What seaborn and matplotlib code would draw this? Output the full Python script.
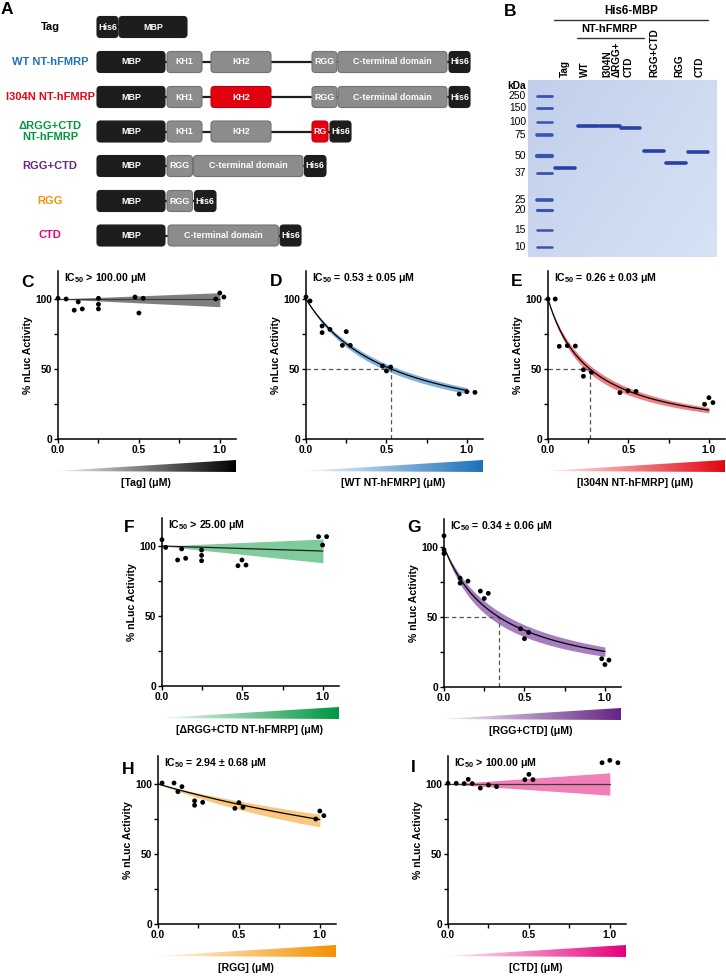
import numpy as np
import pandas as pd
import matplotlib
matplotlib.use("Agg")
import matplotlib.pyplot as plt
import matplotlib.colors as mcolors
from matplotlib.patches import FancyBboxPatch, Polygon
from matplotlib.ticker import FixedLocator, FormatStrFormatter
import seaborn as sns

sns.set_theme(style="ticks")
plt.rcParams['font.family'] = ['Liberation Sans', 'DejaVu Sans']
plt.rcParams['font.weight'] = 'bold'
plt.rcParams['axes.labelweight'] = 'bold'
plt.rcParams['mathtext.fontset'] = 'custom'
plt.rcParams['mathtext.rm'] = 'Liberation Sans:bold'
plt.rcParams['mathtext.it'] = 'Liberation Sans:bold'
plt.rcParams['mathtext.bf'] = 'Liberation Sans:bold'
plt.rcParams['mathtext.default'] = 'rm'
for k in ['axes.edgecolor', 'xtick.color', 'ytick.color', 'text.color', 'axes.labelcolor']:
    plt.rcParams[k] = 'black'

W, H = 726, 977

# ---------------- data ----------------
# Panel C: Tag
tag_x = [0, 0.05, 0.10, 0.125, 0.15, 0.25, 0.25, 0.25, 0.476, 0.50, 0.526, 0.975, 1.0, 1.025]
tag_y = [100.5, 100, 92, 97.9, 92.9, 100.5, 96.2, 92.9, 101.4, 90, 100.5, 100, 104.3, 101.4]
# Panel D: WT NT-hFMRP
wt_x = [0, 0.025, 0.10, 0.10, 0.149, 0.226, 0.25, 0.275, 0.476, 0.50, 0.526, 0.952, 1.0, 1.05]
wt_y = [101.4, 98.6, 80.7, 76, 78.3, 66.9, 76.7, 66.9, 52.1, 48.6, 51.4, 32.1, 33.8, 33.3]
# Panel E: I304N NT-hFMRP
i304n_x = [0, 0.045, 0.07, 0.12, 0.17, 0.22, 0.22, 0.27, 0.447, 0.497, 0.547, 0.973, 1.0, 1.025]
i304n_y = [100, 100, 66.2, 66.7, 66.4, 49.5, 44.8, 47.6, 33.1, 34.5, 34, 24.8, 29.5, 26]
# Panel F: dRGG+CTD NT-hFMRP
drgg_x = [0, 0.023, 0.097, 0.122, 0.147, 0.246, 0.246, 0.246, 0.472, 0.497, 0.522, 0.973, 0.998, 1.023]
drgg_y = [104.5, 99, 90, 97.9, 91.2, 97.1, 93.3, 89.5, 85.9, 90, 86.4, 106.7, 100.7, 106.7]
# Panel G: RGG+CTD
rggctd_x = [0, 0, 0, 0.10, 0.10, 0.149, 0.226, 0.25, 0.275, 0.476, 0.50, 0.526, 0.98, 1.0, 1.025]
rggctd_y = [108, 98, 95.3, 77.7, 74.2, 75.6, 68.5, 63.2, 66.9, 41.6, 34.5, 39, 20.2, 16, 19.2]
# Panel H: RGG
rgg_x = [0.025, 0.099, 0.123, 0.148, 0.226, 0.226, 0.276, 0.475, 0.50, 0.525, 0.975, 1.0, 1.025]
rgg_y = [100.7, 100.7, 94.5, 98.1, 88, 84.8, 86.9, 82.6, 86.7, 83.3, 75, 80.7, 77.4]
# Panel I: CTD
ctd_x = [0, 0.051, 0.10, 0.125, 0.15, 0.20, 0.25, 0.30, 0.475, 0.50, 0.525, 0.952, 1.0, 1.05]
ctd_y = [100.5, 100.5, 100.3, 103.3, 100.3, 97.1, 99.3, 98.1, 103.1, 106.9, 103.1, 115.2, 116.9, 115.2]

# fitted IC50 values (value, error) from the panel annotations
wt_ic50 = (0.53, 0.05)
i304n_ic50 = (0.26, 0.03)
rggctd_ic50 = (0.34, 0.06)
rgg_ic50 = (2.94, 0.68)
# non-inhibiting fits: line, lower and upper band at [0, 1] uM
fit_ends = [0, 1.0]
tag_fit = ([100, 100], [100, 94.5], [100, 104.5])
drgg_fit = ([100, 96.4], [100, 88], [100, 105])
ctd_fit = ([100, 100], [100, 92], [100, 108])

# gel (panel B)
ladder_kda = ["250", "150", "100", "75", "50", "37", "25", "20", "15", "10"]
ladder_pos = [0.092, 0.158, 0.236, 0.311, 0.429, 0.524, 0.678, 0.734, 0.847, 0.942]
ladder_lw = [2.0, 2.0, 1.8, 2.6, 3.0, 2.0, 2.6, 2.2, 1.8, 1.8]
lane_names = ["Tag", "WT", "I304N", "ΔRGG+", "CTD", "RGG+CTD", "RGG", "CTD"]
lane_center = [0.197, 0.319, 0.433, 0.543, 0.665, 0.784, 0.898]
lane_band_pos = [0.499, 0.260, 0.258, 0.271, 0.401, 0.467, 0.405]

# panel A constructs
construct_names = ["Tag", "WT NT-hFMRP", "I304N NT-hFMRP", "ΔRGG+CTD\nNT-hFMRP", "RGG+CTD", "RGG", "CTD"]
construct_colors = ["#000000", "#1d71b8", "#e30613", "#009640", "#662483", "#f39200", "#e5007d"]
construct_domains = [
    [("His6", 97, 118, "tag"), ("MBP", 119, 187, "tag")],
    [("MBP", 97, 165, "tag"), ("KH1", 167, 202, "dom"), ("KH2", 211, 271, "dom"),
     ("RGG", 312, 337, "dom"), ("C-terminal domain", 338, 447, "dom"), ("His6", 449, 470, "tag")],
    [("MBP", 97, 165, "tag"), ("KH1", 167, 202, "dom"), ("KH2", 211, 271, "mut"),
     ("RGG", 312, 337, "dom"), ("C-terminal domain", 338, 447, "dom"), ("His6", 449, 470, "tag")],
    [("MBP", 97, 165, "tag"), ("KH1", 167, 202, "dom"), ("KH2", 211, 271, "dom"),
     ("RG", 312, 328, "mut"), ("His6", 330, 351, "tag")],
    [("MBP", 97, 165, "tag"), ("RGG", 167, 192.5, "dom"), ("C-terminal domain", 193.5, 303, "dom"),
     ("His6", 304.5, 326, "tag")],
    [("MBP", 97, 165, "tag"), ("RGG", 167, 192.5, "dom"), ("His6", 194.5, 216, "tag")],
    [("MBP", 97, 165, "tag"), ("C-terminal domain", 168, 278.5, "dom"), ("His6", 280, 301, "tag")],
]
row_y = [27, 62, 97, 131.5, 166, 201, 235.5]

fig = plt.figure(figsize=(W / 100, H / 100), dpi=100)


def px_axes(l, t, r, b, **kw):
    return fig.add_axes([l / W, 1 - b / H, (r - l) / W, (b - t) / H], **kw)


ov = fig.add_axes([0, 0, 1, 1])
ov.set_xlim(0, W)
ov.set_ylim(H, 0)
ov.axis('off')
ov.patch.set_alpha(0)

# ---------------- Panel A ----------------
kind_face = {"tag": "#1d1d1b", "dom": "#8c8c8c", "mut": "#e3000f"}
kind_edge = {"tag": "#1d1d1b", "dom": "#727272", "mut": "#c00010"}
for name, col, doms, yc in zip(construct_names, construct_colors, construct_domains, row_y):
    ov.text(50, yc, name, ha='center', va='center', fontsize=8, color=col,
            fontweight='bold', linespacing=1.15)
    ov.plot([doms[0][2], doms[-1][1]], [yc, yc], color='#1d1d1b', lw=1.6, zorder=1)
    for lab, s, e, kind in doms:
        p = FancyBboxPatch((s, yc - 10.5), e - s, 21,
                           boxstyle="round,pad=0,rounding_size=3.5",
                           fc=kind_face[kind], ec=kind_edge[kind], lw=0.8, zorder=2)
        ov.add_patch(p)
        ov.text((s + e) / 2, yc, lab, ha='center', va='center', fontsize=6.4,
                color='white', fontweight='bold', zorder=3)

# ---------------- Panel B (gel) ----------------
gax = px_axes(528, 80, 717, 257)
gax.set_xlim(0, 1)
gax.set_ylim(1, 0)
gax.axis('off')
gx = np.linspace(0, 1, 64)
gy = np.linspace(0, 1, 64)
GX, GY = np.meshgrid(gx, gy)
c0 = np.array([0.76, 0.81, 0.92])
c1 = np.array([0.84, 0.89, 0.96])
mix = np.clip(0.6 * GX + 0.4 * GY, 0, 1)[..., None]
gel_img = c0 * (1 - mix) + c1 * mix
gax.imshow(gel_img, extent=[0, 1, 1, 0], aspect='auto', zorder=0)
for pos, lw in zip(ladder_pos, ladder_lw):
    gax.plot([0.045, 0.128], [pos, pos], color='#3a52b0', lw=lw, solid_capstyle='round', zorder=2)
for cx, pos in zip(lane_center, lane_band_pos):
    gax.plot([cx - 0.052, cx + 0.052], [pos, pos], color='#2a40a5', lw=2.6,
             solid_capstyle='round', zorder=2)

ov.text(526, 86, "kDa", ha='right', va='center', fontsize=7.4, fontweight='bold')
for lab, pos in zip(ladder_kda, ladder_pos):
    ov.text(526, 80 + pos * 177, lab, ha='right', va='center', fontsize=7.4, fontweight='normal')
lane_label_x = [565, 585, 607.5, 617, 628.5, 654, 679.5, 699.5]
for lab, lx in zip(lane_names, lane_label_x):
    ov.text(lx, 77, lab, rotation=90, ha='center', va='bottom', fontsize=7.2,
            fontweight='bold')
ov.text(631, 11, "His6-MBP", ha='center', va='center', fontsize=8.3, fontweight='bold')
ov.plot([554, 708], [19.5, 19.5], color='#333333', lw=1.0)
ov.text(609, 29.5, "NT-hFMRP", ha='center', va='center', fontsize=8.0, fontweight='bold')
ov.plot([577, 644], [37.5, 37.5], color='#333333', lw=1.0)

# ---------------- Panels C-I ----------------


def inhibition(x, ic50):
    return 100.0 / (1.0 + np.asarray(x) / ic50)


panels = [
    dict(letter='C', lpos=(27.5, 282.5), box=(58, 271, 236, 439), x=tag_x, y=tag_y,
         tri='#000000', band='#7f7f7f', line='#3c3c3c', label='[Tag] (μM)',
         ic='IC$_{50}$ > 100.00 μM', flat=tag_fit),
    dict(letter='D', lpos=(276, 281.5), box=(306, 271, 483, 439), x=wt_x, y=wt_y,
         tri='#1d71b8', band='#7fb3dd', line='#000000', label='[WT NT-hFMRP] (μM)',
         ic='IC$_{50}$ = 0.53 ± 0.05 μM', ic50=wt_ic50),
    dict(letter='E', lpos=(516.5, 281), box=(548, 271, 725, 439), x=i304n_x, y=i304n_y,
         tri='#e30613', band='#ef7f86', line='#000000', label='[I304N NT-hFMRP] (μM)',
         ic='IC$_{50}$ = 0.26 ± 0.03 μM', ic50=i304n_ic50),
    dict(letter='F', lpos=(129.5, 527.5), box=(162, 518, 339, 686), x=drgg_x, y=drgg_y,
         tri='#009640', band='#7fcb9b', line='#1e1e1e', label='[ΔRGG+CTD NT-hFMRP] (μM)',
         ic='IC$_{50}$ > 25.00 μM', flat=drgg_fit),
    dict(letter='G', lpos=(414, 527.5), box=(444, 519, 621, 687), x=rggctd_x, y=rggctd_y,
         tri='#662483', band='#a67fc0', line='#000000', label='[RGG+CTD] (μM)',
         ic='IC$_{50}$ = 0.34 ± 0.06 μM', ic50=rggctd_ic50),
    dict(letter='H', lpos=(128, 769.5), box=(158, 756, 336, 924), x=rgg_x, y=rgg_y,
         tri='#f39200', band='#f9c77d', line='#000000', label='[RGG] (μM)',
         ic='IC$_{50}$ = 2.94 ± 0.68 μM', ic50=rgg_ic50),
    dict(letter='I', lpos=(413.5, 767.5), box=(448, 756, 626, 924), x=ctd_x, y=ctd_y,
         tri='#e5007d', band='#f17fb8', line='#3c3c3c', label='[CTD] (μM)',
         ic='IC$_{50}$ > 100.00 μM', flat=ctd_fit),
]

for p in panels:
    l, t, r, b = p['box']
    ax = px_axes(l, t, r, b)
    ax.set_xlim(0, 1.1)
    ax.set_ylim(0, 120)
    if 'ic50' in p:
        v, e = p['ic50']
        xs = np.linspace(0, 1.0, 200)
        ax.fill_between(xs, inhibition(xs, v - e), inhibition(xs, v + e), color=p['band'], lw=0, zorder=1)
        sns.lineplot(x=xs, y=inhibition(xs, v), ax=ax, color=p['line'], linewidth=0.9, zorder=2)
        if v < 1.0:
            ax.plot([0, v], [50, 50], color='#555555', lw=0.9, dashes=(3.5, 2.5), zorder=1.5)
            ax.plot([v, v], [0, 50], color='#555555', lw=0.9, dashes=(3.5, 2.5), zorder=1.5)
    else:
        ln, lo, hi = p['flat']
        ax.fill_between(fit_ends, lo, hi, color=p['band'], lw=0, zorder=1)
        sns.lineplot(x=fit_ends, y=ln, ax=ax, color=p['line'], linewidth=0.9, zorder=2)
    sns.scatterplot(x=p['x'], y=p['y'], ax=ax, color='black', s=12, edgecolor='none',
                    zorder=5, clip_on=False, legend=False)
    sns.despine(ax=ax)
    for s in ['left', 'bottom']:
        ax.spines[s].set_linewidth(1.1)
    ax.xaxis.set_major_locator(FixedLocator([0, 0.5, 1.0]))
    ax.xaxis.set_minor_locator(FixedLocator([0.25, 0.75]))
    ax.yaxis.set_major_locator(FixedLocator([0, 50, 100]))
    ax.yaxis.set_minor_locator(FixedLocator([25, 75]))
    ax.xaxis.set_major_formatter(FormatStrFormatter('%.1f'))
    ax.tick_params(which='both', length=2.6, width=1.0, labelsize=7.4, pad=1.5)
    ax.set_xlabel('')
    ax.set_ylabel('% nLuc Activity', fontsize=7.6, fontweight='bold', labelpad=2)
    for lbl in ax.get_xticklabels() + ax.get_yticklabels():
        lbl.set_fontweight('bold')
    ax.text(0.035, 0.958, p['ic'], transform=ax.transAxes, ha='left', va='center',
            fontsize=7.6, fontweight='bold')
    ov.text(p['lpos'][0], p['lpos'][1], p['letter'], ha='center', va='center',
            fontsize=12.5, fontweight='bold')
    # gradient triangle
    tl, tr = l - 3, r
    tt, tb = b + 21, b + 33
    tax = px_axes(tl, tt, tr, tb)
    tax.set_xlim(0, 1)
    tax.set_ylim(0, 1)
    tax.axis('off')
    c = np.array(mcolors.to_rgb(p['tri']))
    tv = np.linspace(0.05, 1, 256)[:, None]
    img = ((1 - tv) * np.ones(3) + tv * c)[None, :, :]
    im = tax.imshow(img, extent=[0, 1, 0, 1], aspect='auto')
    tri = Polygon([[0, 0.08], [1, 0], [1, 1]], closed=True, transform=tax.transAxes)
    im.set_clip_path(tri)
    ov.text((tl + tr) / 2, tb + 11, p['label'], ha='center', va='center',
            fontsize=7.6, fontweight='bold')

ov.text(6.5, 9.5, 'A', ha='center', va='center', fontsize=12.5, fontweight='bold')
ov.text(510, 11, 'B', ha='center', va='center', fontsize=12.5, fontweight='bold')

fig.savefig('out.png', dpi=100)
